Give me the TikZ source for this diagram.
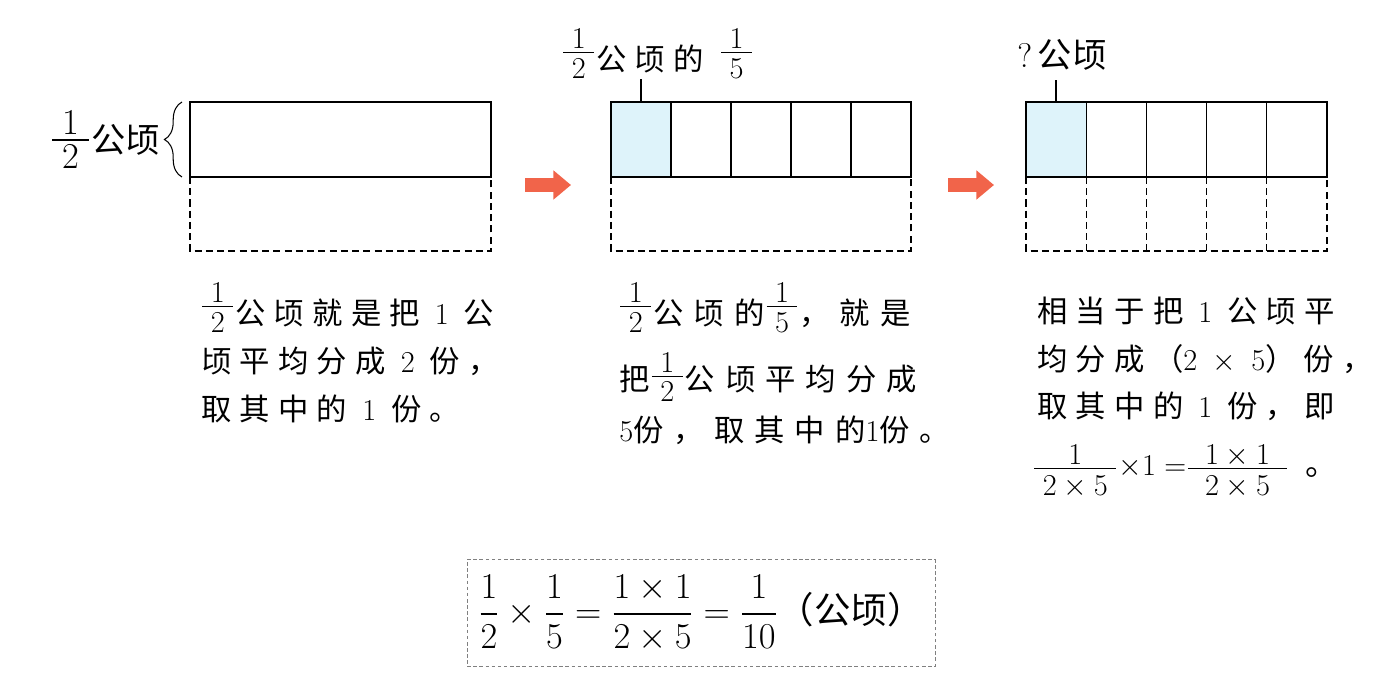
\documentclass[tikz,border=0pt]{standalone}
\usepackage{amsmath}
\usepackage{fontspec}
\newfontfamily\cjk[LetterSpace=27]{Noto Sans CJK SC}
\newfontfamily\cjkwide[LetterSpace=33]{Noto Sans CJK SC}
\newfontfamily\cjkplain{Noto Sans CJK SC}
\usetikzlibrary{arrows.meta,decorations.pathreplacing,positioning}
\definecolor{cellblue}{RGB}{222,243,250}
\definecolor{arrowred}{RGB}{241,100,74}
\newcommand{\fr}[3][6pt]{\raisebox{#1}{$\frac{\textstyle\;#2\;\rule[-0.06em]{0pt}{0pt}}{\textstyle\;#3\;\rule{0pt}{0.78em}}$}}
\tikzset{bar/.style = {line width=0.75pt},
         guide/.style = {line width=0.6pt, dash pattern=on 4pt off 2.4pt},
         txt/.style = {anchor=base west, inner sep=0pt,
                       font=\cjk\fontsize{17.28}{21}\selectfont},
         wide/.style = {font=\cjkwide\fontsize{17.28}{21}\selectfont},
         big/.style = {font=\cjkplain\fontsize{19.5}{23}\selectfont},
         go/.style = {arrowred, line width=8pt,
                      -{Triangle[length=10pt,width=16pt]}}}

\begin{document}
\begin{tikzpicture}[x=0.02cm, y=-0.02cm]
  \useasboundingbox (0,0) rectangle (1399,678);
  % first bar
  \draw[bar] (190,102) rectangle (491,177);
  \draw[guide] (190,177) -- (190,251) -- (491,251) -- (491,177);
  \coordinate (brA) at (182,177);
  \coordinate (brB) at (182,102);
  \draw[line width=0.6pt, decorate, decoration={brace, amplitude=10pt}] (brA) -- (brB);
  \node[txt, big, anchor=east] (half) at (160,140) {\fr[2pt]12公顷};
  % second bar
  \fill[cellblue] (611,102) rectangle (671,177);
  \foreach \i in {1,...,4}
    \draw[bar] (611+60*\i,102) -- ++(0,75);
  \draw[bar] (611,102) rectangle (911,177);
  \draw[guide] (611,177) -- (611,251) -- (911,251) -- (911,177);
  \coordinate (tick2) at (641,102);
  \node[txt] (fifth) at (561,71) {\fr12公顷的\enspace\fr15};
  \draw[bar] (tick2) -- (tick2 |- fifth.south);
  % third bar
  \fill[cellblue] (1026,102) rectangle (1086,177);
  \foreach \i in {1,...,4} {
    \draw[bar] (1026+60.2*\i,102) -- ++(0,75);
    \draw[guide] (1026+60.2*\i,177) -- ++(0,74);
  }
  \draw[bar] (1026,102) rectangle (1327,177);
  \draw[guide] (1026,177) -- (1026,251) -- (1327,251) -- (1327,177);
  \coordinate (tick3) at (1056,102);
  \node[txt, big] (ask) at (1017,68) {{\rmfamily ?}\,公顷};
  \draw[bar, shorten >=5pt] (tick3) -- (tick3 |- ask.south);
  % arrows
  \coordinate (a1) at (525,185);
  \coordinate (b1) at (571,185);
  \coordinate (a2) at (948,185);
  \coordinate (b2) at (994,185);
  \draw[go] (a1) -- (b1);
  \draw[go] (a2) -- (b2);
  % texts
  \node[txt] (t1a) at (200,325) {\fr12公顷就是把 $1$ 公};
  \node[txt] (t1b) at (201,373) {顷平均分成 $2$ 份，};
  \node[txt] (t1c) at (201,421) {取其中的 $1$ 份。};
  \node[txt, wide] (t2a) at (618,325) {\fr12公顷的\fr15，就是};
  \node[txt, wide] (t2b) at (619,391) {把\fr[4pt]12公顷平均分成};
  \node[txt, wide] (t2c) at (619,441) {$5$份，取其中的$1$份。};
  \node[txt] (t3a) at (1037,323) {相当于把 $1$ 公顷平};
  \node[txt] (t3b) at (1037,371) {均分成（$2\;\times\;5$）份，};
  \node[txt] (t3c) at (1037,418) {取其中的 $1$ 份，即};
  \node[txt, font=\cjk\fontsize{18.5}{22}\selectfont] (t3d) at (1032,476)
       {\fr[0pt]{1}{2\times5}$\times1=$\fr[0pt]{\;1\times1\;}{\;2\times5\;}\enspace 。};
  % result
  \node[draw=gray, line width=0.5pt, dash pattern=on 2pt off 1.5pt,
        minimum width=9.36cm, minimum height=2.14cm, inner sep=0pt,
        font=\cjkplain\fontsize{20.74}{25}\selectfont] (sum) at (701,613)
        {$\dfrac{1}{2}\times\dfrac{1}{5}=\dfrac{1\times1}{2\times5}=\dfrac{1}{10}$（公顷）};
\end{tikzpicture}
\end{document}
